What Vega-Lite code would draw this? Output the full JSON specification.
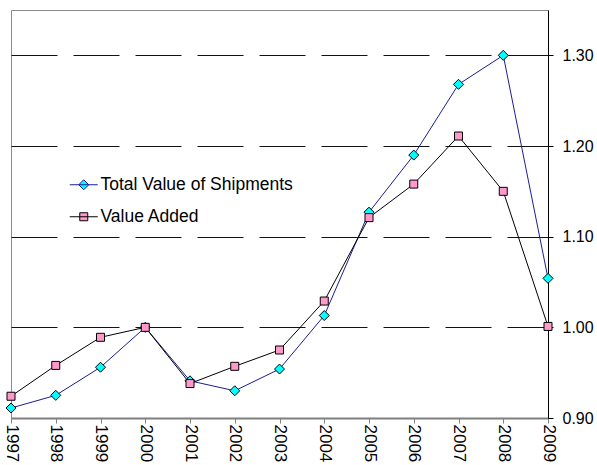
{
  "$schema": "https://vega.github.io/schema/vega-lite/v6.json",
  "autosize": {"type": "none"},
  "padding": {"left": 11, "top": 10, "right": 49, "bottom": 47},
  "width": 537,
  "height": 408,
  "background": "white",
  "config": {
    "view": {"stroke": "#8c8c8c", "strokeWidth": 1},
    "font": "Liberation Sans"
  },
  "data": {
    "values": [
      {"year": "1997", "series": "Total Value of Shipments", "value": 0.911},
      {"year": "1998", "series": "Total Value of Shipments", "value": 0.925},
      {"year": "1999", "series": "Total Value of Shipments", "value": 0.956},
      {"year": "2000", "series": "Total Value of Shipments", "value": 1.0},
      {"year": "2001", "series": "Total Value of Shipments", "value": 0.941},
      {"year": "2002", "series": "Total Value of Shipments", "value": 0.93},
      {"year": "2003", "series": "Total Value of Shipments", "value": 0.954},
      {"year": "2004", "series": "Total Value of Shipments", "value": 1.013},
      {"year": "2005", "series": "Total Value of Shipments", "value": 1.127},
      {"year": "2006", "series": "Total Value of Shipments", "value": 1.19},
      {"year": "2007", "series": "Total Value of Shipments", "value": 1.268},
      {"year": "2008", "series": "Total Value of Shipments", "value": 1.3},
      {"year": "2009", "series": "Total Value of Shipments", "value": 1.054},
      {"year": "1997", "series": "Value Added", "value": 0.924},
      {"year": "1998", "series": "Value Added", "value": 0.958},
      {"year": "1999", "series": "Value Added", "value": 0.989},
      {"year": "2000", "series": "Value Added", "value": 1.0},
      {"year": "2001", "series": "Value Added", "value": 0.938},
      {"year": "2002", "series": "Value Added", "value": 0.957},
      {"year": "2003", "series": "Value Added", "value": 0.975},
      {"year": "2004", "series": "Value Added", "value": 1.029},
      {"year": "2005", "series": "Value Added", "value": 1.121},
      {"year": "2006", "series": "Value Added", "value": 1.158},
      {"year": "2007", "series": "Value Added", "value": 1.211},
      {"year": "2008", "series": "Value Added", "value": 1.15},
      {"year": "2009", "series": "Value Added", "value": 1.001}
    ]
  },
  "encoding": {
    "x": {
      "field": "year", "type": "ordinal",
      "scale": {"type": "point", "padding": 0},
      "axis": {
        "title": null, "labelAngle": 90, "labelAlign": "left", "labelBaseline": "middle",
        "labelFontSize": 17, "labelColor": "black", "labelPadding": 1,
        "domainColor": "#7f7f7f", "domainWidth": 2, "tickColor": "#7f7f7f", "tickSize": 5, "tickWidth": 1,
        "grid": false
      }
    },
    "y": {
      "field": "value", "type": "quantitative",
      "scale": {"domain": [0.9, 1.35], "nice": false, "zero": false},
      "axis": {
        "orient": "right", "title": null, "values": [0.9, 1.0, 1.1, 1.2, 1.3], "format": ".2f",
        "labelFontSize": 16, "labelColor": "black", "labelPadding": 9,
        "domainColor": "black", "domainWidth": 1, "tickColor": "black", "tickSize": 5,
        "grid": true, "gridDash": [46, 16], "gridDashOffset": 5, "gridWidth": 1,
        "gridColor": {"condition": {"test": "datum.value < 0.95", "value": "transparent"}, "value": "#111111"}
      }
    }
  },
  "layer": [
    {
      "mark": {"type": "line", "strokeWidth": 1},
      "encoding": {
        "detail": {"field": "series", "type": "nominal"},
        "stroke": {
          "condition": {"test": "datum.series === 'Value Added'", "value": "#000000"},
          "value": "#1c1c96"
        }
      }
    },
    {
      "mark": {"type": "point", "filled": true, "size": 100, "stroke": "#000000", "strokeWidth": 1, "opacity": 1},
      "encoding": {
        "fill": {
          "field": "series", "type": "nominal",
          "scale": {"domain": ["Total Value of Shipments", "Value Added"], "range": ["#00ffff", "#ff99cc"]},
          "legend": {
            "title": null, "orient": "none", "legendX": 64, "legendY": 166,
            "padding": 0, "symbolSize": 100, "labelFontSize": 17.5, "labelColor": "black",
            "labelLimit": 0,
            "labelOffset": 8, "rowPadding": 13, "symbolStrokeWidth": 1,
            "symbolOpacity": 1,
            "symbolStrokeColor": {"expr": "datum.value === 'Value Added' ? '#000000' : '#1c1c96'"},
            "symbolType": {"expr": "datum.value === 'Value Added' ? 'M-2.8,0H2.8M-0.8,-0.8H0.8V0.8H-0.8Z' : 'M-2.8,0H2.8M0,-1L1,0L0,1L-1,0Z'"}
          }
        },
        "shape": {
          "condition": {"test": "datum.series === 'Value Added'", "value": "M-0.8,-0.8H0.8V0.8H-0.8Z"},
          "value": "M0,-1L1,0L0,1L-1,0Z"
        }
      }
    }
  ]
}
